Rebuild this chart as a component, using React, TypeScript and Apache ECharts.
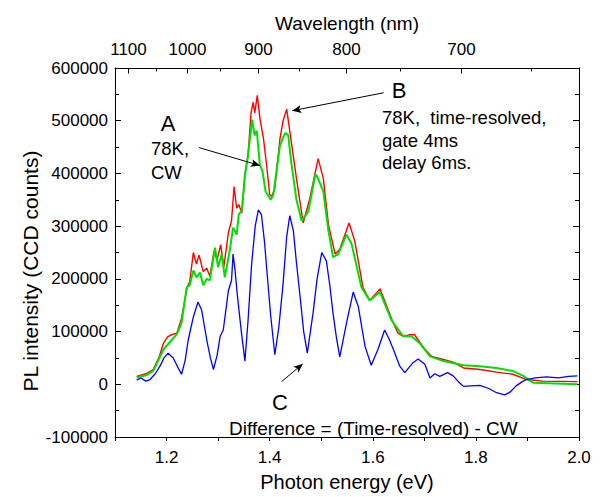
import React, { useEffect, useRef } from "react";
import * as echarts from "echarts";

// Photon energy (eV) vs PL intensity (CCD counts)
const timeResolved: [number, number][] = [
  [1.142, 15000], [1.16, 20000], [1.174, 28000], [1.185, 50000], [1.194, 78000],
  [1.202, 90000], [1.21, 94000], [1.22, 97000], [1.229, 125000], [1.24, 184000],
  [1.245, 195000], [1.252, 250000], [1.258, 228000], [1.263, 245000], [1.271, 214000],
  [1.278, 220000], [1.284, 205000], [1.292, 252000], [1.298, 236000], [1.305, 265000],
  [1.311, 222000], [1.32, 288000], [1.326, 310000], [1.331, 375000], [1.336, 334000],
  [1.34, 341000], [1.346, 325000], [1.352, 397000], [1.358, 434000], [1.364, 516000],
  [1.368, 535000], [1.371, 515000], [1.376, 548000], [1.381, 505000], [1.388, 466000],
  [1.394, 416000], [1.4, 360000], [1.404, 356000], [1.41, 372000], [1.42, 466000],
  [1.426, 500000], [1.433, 522000], [1.442, 460000], [1.452, 390000], [1.465, 306000],
  [1.478, 353000], [1.494, 428000], [1.504, 391000], [1.514, 303000], [1.527, 247000],
  [1.536, 256000], [1.554, 306000], [1.565, 272000], [1.581, 184000], [1.594, 159000],
  [1.614, 181000], [1.63, 141000], [1.64, 116000], [1.649, 97000], [1.659, 91000],
  [1.672, 94000], [1.681, 94000], [1.688, 84000], [1.7, 68000], [1.714, 53000],
  [1.737, 47000], [1.756, 42000], [1.776, 31000], [1.808, 28000], [1.84, 23000],
  [1.872, 19000], [1.898, 9000], [1.93, 6000], [1.997, 5000],
];

const continuousWave: [number, number][] = [
  [1.142, 13000], [1.16, 17000], [1.174, 25000], [1.194, 66000], [1.21, 84000],
  [1.22, 95000], [1.229, 116000], [1.239, 184000], [1.245, 188000], [1.252, 216000],
  [1.258, 203000], [1.265, 212000], [1.271, 188000], [1.278, 200000], [1.284, 197000],
  [1.294, 259000], [1.3, 222000], [1.307, 247000], [1.313, 203000], [1.323, 256000],
  [1.329, 297000], [1.336, 284000], [1.34, 322000], [1.346, 330000], [1.352, 397000],
  [1.358, 434000], [1.366, 502000], [1.371, 472000], [1.375, 481000], [1.381, 416000],
  [1.386, 405000], [1.392, 366000], [1.402, 350000], [1.407, 359000], [1.42, 453000],
  [1.426, 468000], [1.431, 477000], [1.436, 472000], [1.442, 420000], [1.452, 350000],
  [1.462, 310000], [1.475, 328000], [1.488, 395000], [1.491, 397000], [1.504, 366000],
  [1.514, 291000], [1.523, 241000], [1.533, 247000], [1.549, 284000], [1.559, 266000],
  [1.578, 184000], [1.594, 159000], [1.614, 175000], [1.636, 122000], [1.659, 91000],
  [1.675, 91000], [1.691, 78000], [1.711, 53000], [1.737, 44000], [1.776, 36000],
  [1.808, 34000], [1.84, 31000], [1.872, 25000], [1.892, 16000], [1.911, 3000],
  [1.997, 0],
];

const difference: [number, number][] = [
  [1.142, 8000], [1.15, 12000], [1.16, 6000], [1.168, 9000], [1.178, 20000],
  [1.187, 34000], [1.195, 50000], [1.203, 59000], [1.213, 50000], [1.222, 32000],
  [1.229, 19000], [1.236, 45000], [1.242, 84000], [1.252, 128000], [1.261, 156000],
  [1.268, 141000], [1.278, 84000], [1.285, 50000], [1.291, 28000], [1.298, 55000],
  [1.304, 91000], [1.31, 103000], [1.32, 178000], [1.326, 197000], [1.329, 247000],
  [1.333, 215000], [1.337, 172000], [1.345, 100000], [1.352, 44000], [1.358, 120000],
  [1.365, 228000], [1.372, 300000], [1.378, 331000], [1.384, 322000], [1.39, 270000],
  [1.394, 222000], [1.402, 130000], [1.41, 56000], [1.418, 110000], [1.426, 191000],
  [1.433, 280000], [1.439, 320000], [1.446, 291000], [1.452, 230000], [1.459, 166000],
  [1.466, 100000], [1.473, 59000], [1.484, 134000], [1.492, 200000], [1.501, 250000],
  [1.51, 234000], [1.517, 185000], [1.523, 134000], [1.53, 85000], [1.536, 52000],
  [1.549, 116000], [1.562, 175000], [1.572, 147000], [1.585, 72000], [1.597, 36000],
  [1.61, 66000], [1.623, 103000], [1.632, 85000], [1.64, 66000], [1.652, 35000],
  [1.662, 22000], [1.678, 41000], [1.688, 48000], [1.701, 38000], [1.711, 12000],
  [1.72, 20000], [1.73, 15000], [1.745, 22000], [1.756, 16000], [1.766, 5000],
  [1.776, -4000], [1.79, -3000], [1.808, -2000], [1.825, -8000], [1.84, -16000],
  [1.856, -20000], [1.866, -15000], [1.878, -3000], [1.89, 5000], [1.898, 9000],
  [1.915, 12000], [1.937, 14000], [1.96, 12000], [1.98, 15000], [1.997, 16000],
];

const wavelengthMajor = [1100, 1000, 900, 800, 700];
const wavelengthMinor = [1050, 950, 850, 750, 650];
const HC = 1239.84; // eV·nm

const FONT = "'Liberation Sans', Arial, Helvetica, sans-serif";

export default function App() {
  const ref = useRef<HTMLDivElement>(null);
  useEffect(() => {
    if (!ref.current) return;
    const chart = echarts.init(ref.current, undefined, { renderer: "svg" });
    const black = "#000";
    const option: any = {
      animation: false,
      textStyle: { fontFamily: FONT },
      grid: { left: 115, right: 21, top: 68, bottom: 55 },
      xAxis: [
        {
          type: "value", min: 1.1, max: 2.0, interval: 0.1, position: "bottom",
          name: "Photon energy (eV)",
          nameLocation: "middle",
          nameGap: 35,
          nameTextStyle: { fontSize: 20, color: black },
          axisLine: { show: true, onZero: false, lineStyle: { color: black } },
          axisTick: { show: true, length: 4, lineStyle: { color: black } },
          splitLine: { show: false },
          axisLabel: {
            formatter: (v: number) => (Math.round(v * 10) % 2 === 0 ? v.toFixed(1) : ""),
            fontSize: 17, color: black, margin: 12,
          },
        },
        {
          type: "value", min: 1.1, max: 2.0, position: "top",
          name: "Wavelength (nm)",
          nameLocation: "middle",
          nameGap: 35,
          nameTextStyle: { fontSize: 19, color: black },
          axisLine: { show: true, onZero: false, lineStyle: { color: black } },
          axisTick: { show: false },
          splitLine: { show: false },
          axisLabel: { show: false },
        },
      ],
      yAxis: [
        {
          type: "value", min: -100000, max: 600000, interval: 100000, position: "left",
          axisLine: { show: true, onZero: false, lineStyle: { color: black } },
          axisTick: { show: true, inside: true, length: 6, lineStyle: { color: black } },
          minorTick: { show: true, splitNumber: 2, length: 4, lineStyle: { color: black } },
          splitLine: { show: false },
          axisLabel: { formatter: (v: number) => String(v), fontSize: 17, color: black, margin: 7 },
        },
        {
          type: "value", min: -100000, max: 600000, interval: 100000, position: "right",
          axisLine: { show: true, onZero: false, lineStyle: { color: black } },
          axisTick: { show: true, inside: true, length: 6, lineStyle: { color: black } },
          minorTick: { show: true, splitNumber: 2, length: 4, lineStyle: { color: black } },
          splitLine: { show: false },
          axisLabel: { show: false },
        },
      ],
      series: [
        {
          name: "Time-resolved", type: "line", data: timeResolved, showSymbol: false,
          lineStyle: { color: "#ff0000", width: 1.4 }, silent: true, z: 2,
        },
        {
          name: "CW", type: "line", data: continuousWave, showSymbol: false,
          lineStyle: { color: "#00e000", width: 2 }, silent: true, z: 3,
        },
        {
          name: "Difference", type: "line", data: difference, showSymbol: false,
          lineStyle: { color: "#0000ff", width: 1.3 }, silent: true, z: 4,
          markLine: {
            silent: true,
            symbol: ["none", "arrow"],
            symbolSize: [6, 9],
            label: { show: false },
            emphasis: { disabled: true },
            lineStyle: { color: black, width: 1, type: "solid" },
            data: [
              [{ coord: [1.263, 449000] }, { coord: [1.381, 415000] }],
              [{ coord: [1.621, 553000] }, { coord: [1.444, 519000] }],
              [{ coord: [1.423, 5000] }, { coord: [1.464, 38600] }],
            ],
          },
        },
      ],
    };
    chart.setOption(option);

    // wavelength scale on the top edge: position each nm value via the energy axis
    const px = (v: number) => chart.convertToPixel({ xAxisIndex: 0 }, v) as number;
    const py = (v: number) => chart.convertToPixel({ yAxisIndex: 0 }, v) as number;
    const top = Math.round(py(600000) - 0.5) + 0.5;
    const topItems: any[] = [];
    wavelengthMajor.forEach((w) => {
      const x = Math.round(px(HC / w) - 0.5) + 0.5;
      topItems.push({
        type: "line", silent: true,
        shape: { x1: x, y1: top, x2: x, y2: top + 5 },
        style: { stroke: black, lineWidth: 1 },
      });
      topItems.push({
        type: "text", x, y: top - 19, silent: true,
        style: { text: String(w), font: `17px ${FONT}`, fill: black, textAlign: "center", textVerticalAlign: "middle" },
      });
    });
    wavelengthMinor.forEach((w) => {
      const x = Math.round(px(HC / w) - 0.5) + 0.5;
      topItems.push({
        type: "line", silent: true,
        shape: { x1: x, y1: top, x2: x, y2: top + 3 },
        style: { stroke: black, lineWidth: 1 },
      });
    });

    const txt = (text: string, x: number, y: number, size: number, align: string) => ({
      type: "text", x, y, silent: true,
      style: { text, font: `${size}px ${FONT}`, fill: black, textAlign: align, textVerticalAlign: "middle" },
    });

    chart.setOption({
      graphic: [
        {
          type: "text", x: 30, y: 271, rotation: Math.PI / 2, silent: true,
          style: { text: "PL intensity (CCD counts)", font: `21px ${FONT}`, fill: black, textAlign: "center", textVerticalAlign: "middle" },
        },
        txt("A", 168, 123, 22, "center"),
        txt("78K,", 151, 148, 18.5, "left"),
        txt("CW", 151, 172, 18.5, "left"),
        txt("B", 399, 90, 22, "center"),
        txt("78K,  time-resolved,", 382, 117, 18.5, "left"),
        txt("gate 4ms", 382, 140, 18.5, "left"),
        txt("delay 6ms.", 382, 162, 18.5, "left"),
        txt("C", 280, 402, 22, "center"),
        txt("Difference = (Time-resolved) - CW", 229, 428, 19, "left"),
        ...topItems,
      ],
    });
    return () => chart.dispose();
  }, []);
  return (
    <div
      ref={ref}
      style={{ position: "absolute", left: 0, top: 0, width: 600, height: 497, background: "#fff" }}
    />
  );
}
